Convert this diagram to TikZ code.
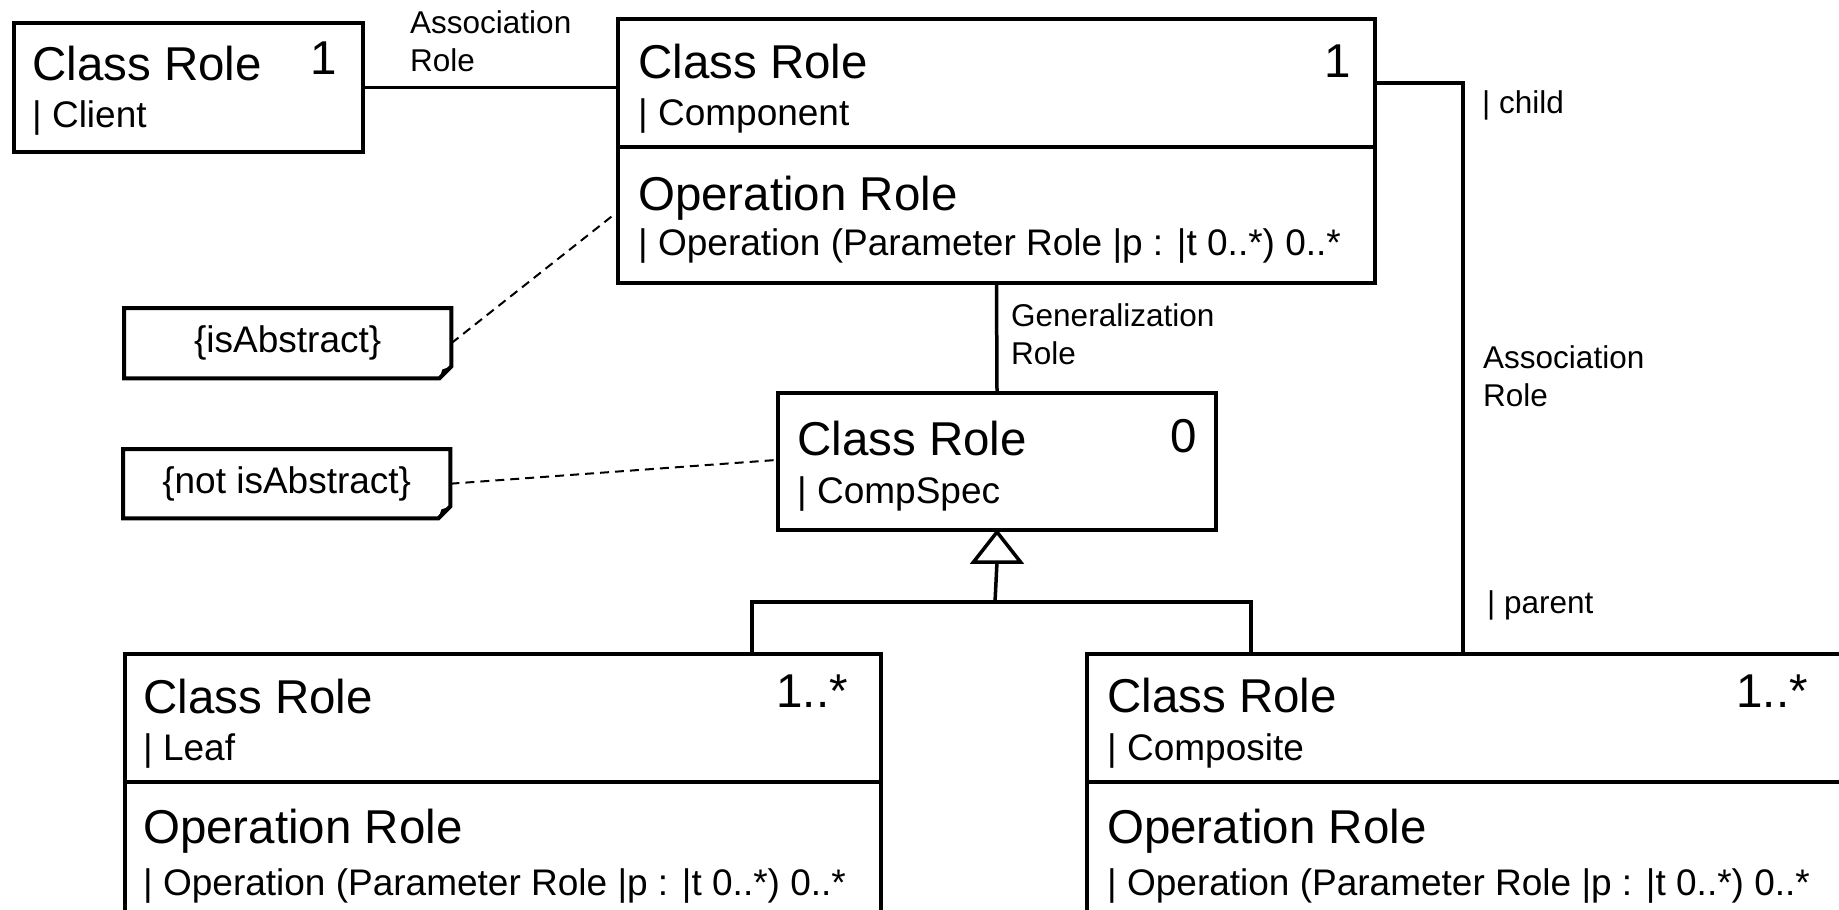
\documentclass[tikz,border=0pt]{standalone}
\usepackage{fontspec}
\setmainfont{Liberation Sans}
\begin{document}
\begin{tikzpicture}[x=1pt,y=-1pt,line join=miter]
\useasboundingbox (0,0) rectangle (1839,910);
\clip (0,0) rectangle (1839,910);
\tikzset{
  umlbox/.style={draw, line width=4pt, anchor=north west, inner sep=0pt, fill=white},
  big/.style={anchor=base west, inner sep=0pt, font=\fontsize{47.5}{52}\selectfont},
  sub/.style={anchor=base west, inner sep=0pt, font=\fontsize{37}{40}\selectfont},
  mult/.style={anchor=base east, inner sep=0pt, font=\fontsize{47.5}{52}\selectfont},
  lbl/.style={anchor=base west, inner sep=0pt, font=\fontsize{31.5}{38}\selectfont},
  conn/.style={line width=3.5pt},
  divider/.style={line width=4pt},
  notebox/.style={anchor=north west, inner sep=0pt, font=\fontsize{37}{40}\selectfont},
  dashconn/.style={line width=2pt, dash pattern=on 9pt off 6pt},
  notefold/.style={line width=4pt}
}
% boxes
\node[umlbox, minimum width=349pt, minimum height=129pt] (client) at (12,21) {};
\node[umlbox, minimum width=757pt, minimum height=264pt] (comp) at (616,17) {};
\node[umlbox, minimum width=438pt, minimum height=137pt] (spec) at (776,391) {};
\node[umlbox, minimum width=756pt, minimum height=320pt] (leaf) at (123,652) {};
\node[umlbox, minimum width=900pt, minimum height=320pt] (composite) at (1085,652) {};
% dividers
\draw[divider] (616,147) -- (1373,147);
\draw[divider] (123,782) -- (879,782);
\draw[divider] (1085,782) -- (1985,782);
% texts: client
\node[big] (clientT) at (32,80) {Class Role};
\node[sub] (clientN) at (32,127) {| Client};
\node[mult] (clientM) at (337,74) {1};
% component
\node[big] (compT) at (638,78) {Class Role};
\node[sub] (compN) at (638,125) {| Component};
\node[mult] (compM) at (1351,77) {1};
\node[big] (compO) at (638,210) {Operation Role};
\node[sub] (compOp) at (638,255) {| Operation (Parameter Role |p : |t 0..*) 0..*};
% compspec
\node[big] (specT) at (797,455) {Class Role};
\node[sub] (specN) at (797,503) {| CompSpec};
\node[mult] (specM) at (1197,452) {0};
% leaf
\node[big] (leafT) at (143,713) {Class Role};
\node[sub] (leafN) at (143,760) {| Leaf};
\node[mult] (leafM) at (848,707) {1..*};
\node[big] (leafO) at (143,843) {Operation Role};
\node[sub] (leafOp) at (143,895) {| Operation (Parameter Role |p : |t 0..*) 0..*};
% composite
\node[big] (compoT) at (1107,712) {Class Role};
\node[sub] (compoN) at (1107,760) {| Composite};
\node[mult] (compoM) at (1808,707) {1..*};
\node[big] (compoO) at (1107,843) {Operation Role};
\node[sub] (compoOp) at (1107,895) {| Operation (Parameter Role |p : |t 0..*) 0..*};
% notes
\node[notebox, minimum width=327pt, minimum height=70pt] (n1) at (124,308) {\{isAbstract\}};
\node[notebox, minimum width=327pt, minimum height=69pt] (n2) at (123,449) {\{not isAbstract\}};
\foreach \n in {n1,n2}{
  \draw[notefold] (\n.north west) -- (\n.north east) -- ([yshift=12pt]\n.south east)
     -- ([xshift=-12pt]\n.south east) -- (\n.south west) -- cycle;
  \fill ([xshift=-12pt]\n.south east) -- ([xshift=-9pt,yshift=9pt]\n.south east)
     -- ([yshift=12pt]\n.south east) -- cycle;
}
% connectors
\draw[conn] (client.east) -- (client.east -| comp.west);
\draw[conn] (comp.south) -- (spec.north);
\coordinate (childA) at (1373,83);
\coordinate (parentA) at (1463,652);
\draw[conn] (childA) -| (parentA);
\coordinate (tb) at ([yshift=-30pt]spec.south);
\coordinate (bus) at (995,602);
\coordinate (leafIn) at (752,652);
\coordinate (compoIn) at (1251,652);
\draw[conn] (tb) -- (bus);
\draw[conn] (leafIn) |- (bus) -| (compoIn);
\draw[conn, fill=white] (spec.south) -- ++(23.5,30) -- ++(-47,0) -- cycle;
\coordinate (cmpNote) at (616,213);
\coordinate (specNote) at (776,460);
\draw[dashconn] (n1.east) -- (cmpNote);
\draw[dashconn] (n2.east) -- (specNote);
% labels
\node[lbl] (a1) at (410,33) {Association};
\node[lbl] (a1b) at (410,71) {Role};
\node[lbl] (g1) at (1011,326) {Generalization};
\node[lbl] (g1b) at (1011,364) {Role};
\node[lbl] (ch) at (1482,113) {| child};
\node[lbl] (a2) at (1483,368) {Association};
\node[lbl] (a2b) at (1483,406) {Role};
\node[lbl] (pa) at (1487,613) {| parent};
\end{tikzpicture}
\end{document}
